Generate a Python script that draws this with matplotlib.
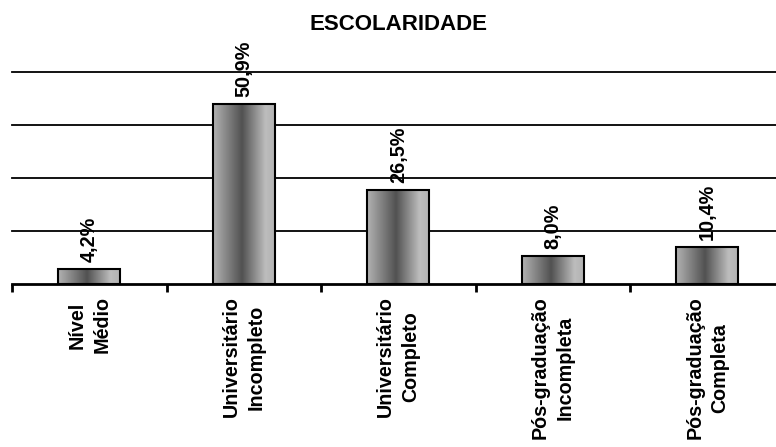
import matplotlib
matplotlib.use('Agg')

import numpy as np
from matplotlib import pyplot as plt

plt.rcParams['font.family'] = ['Liberation Sans', 'DejaVu Sans']
plt.rcParams['font.weight'] = 'bold'

categories = ["Nível\nMédio", "Universitário\nIncompleto", "Universitário\nCompleto",
              "Pós-graduação\nIncompleta", "Pós-graduação\nCompleta"]
values = [4.2, 50.9, 26.5, 8.0, 10.4]
value_labels = ["4,2%", "50,9%", "26,5%", "8,0%", "10,4%"]
grid_values = [15, 30, 45, 60]

fig = plt.figure(figsize=(7.76, 4.47), dpi=100)
ax = fig.add_axes([0.0155, 0.3647, 0.9955, 0.4749])

x = np.arange(len(values))
bars = ax.bar(x, values, width=0.4, facecolor='none', edgecolor='black',
              linewidth=1.5, zorder=3)

# cylinder-like shading across each bar
pos = np.linspace(0, 1, 256)
shade = np.interp(pos, [0, 0.47, 0.85, 1], [0.70, 0.32, 0.74, 0.70])
grad = np.tile(shade, (2, 1))
for b in bars:
    x0, y0 = b.get_x(), b.get_y()
    im = ax.imshow(grad, cmap='gray', vmin=0, vmax=1, aspect='auto',
                   extent=(x0, x0 + b.get_width(), y0, y0 + b.get_height()),
                   zorder=2, interpolation='bilinear')
    im.set_clip_path(b)

for xi, v, lab in zip(x, values, value_labels):
    ax.annotate(lab, (xi, v), xytext=(0, 5), textcoords='offset points',
                rotation=90, ha='center', va='bottom', fontsize=14.3,
                fontweight='bold')

for g in grid_values:
    ax.axhline(g, color='black', linewidth=1.3, zorder=1, clip_on=False)

ax.set_xlim(-0.5, 4.5)
ax.set_ylim(0, 60)

ax.set_xticks(x)
ax.set_xticklabels(categories, rotation=90, fontsize=14.2, fontweight='bold',
                   multialignment='center', linespacing=1.4)
ax.set_xticks(np.arange(-0.5, 5, 1), minor=True)
ax.tick_params(axis='x', which='major', length=0, pad=9)
ax.tick_params(axis='x', which='minor', length=6, width=2, color='black')
ax.tick_params(axis='y', left=False, labelleft=False)
ax.set_yticks([])

for side in ['left', 'right', 'top']:
    ax.spines[side].set_visible(False)
ax.spines['bottom'].set_linewidth(2)
ax.spines['bottom'].set_zorder(4)

ax.set_title("ESCOLARIDADE", fontsize=16, fontweight='bold', pad=30)

fig.savefig("out.png", dpi=100)
